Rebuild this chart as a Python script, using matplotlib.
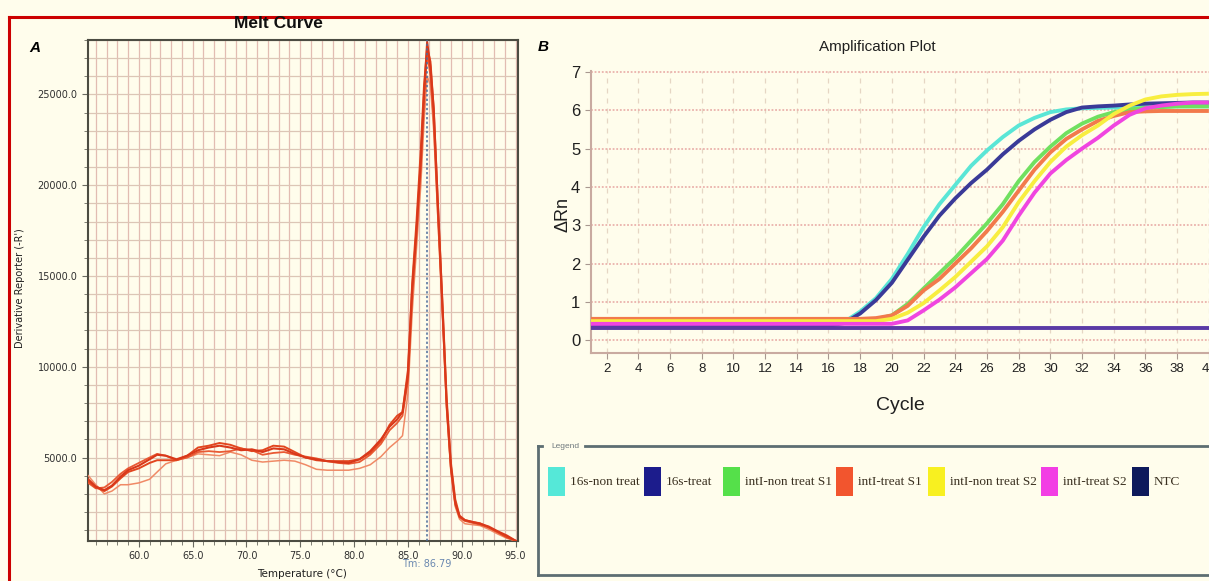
import matplotlib
matplotlib.use("Agg")
import matplotlib.pyplot as plt
from matplotlib.lines import Line2D
from matplotlib.patches import Rectangle

# ---- melt curve data (panel A) ----
temp = [55.3, 56.0, 56.8, 57.5, 58.3, 59.0, 60.0, 61.0, 61.7, 62.5, 63.5, 64.5,
        65.5, 66.5, 67.5, 68.5, 69.5, 70.5, 71.5, 72.5, 73.5, 74.5, 75.5, 76.5,
        77.5, 78.5, 79.5, 80.5, 81.5, 82.5, 83.3, 84.0, 84.5, 85.0, 85.4, 85.8,
        86.2, 86.5, 86.79, 87.1, 87.4, 87.8, 88.2, 88.6, 89.0, 89.4, 89.8, 90.3,
        91.0, 91.7, 92.5, 93.3, 94.2, 95.0]
melt_1 = [3800, 3400, 3200, 3450, 3950, 4300, 4550, 4900, 5150, 5100, 4900, 5100,
          5400, 5550, 5650, 5550, 5400, 5450, 5300, 5500, 5450, 5200, 5000, 4900,
          4800, 4750, 4700, 4900, 5350, 6000, 6700, 7100, 7500, 9500, 14300, 17500,
          21300, 25000, 27900, 26500, 24200, 18800, 13500, 8000, 4500, 2500, 1750, 1550,
          1450, 1350, 1200, 950, 700, 420]
melt_2 = [3600, 3300, 3350, 3650, 4100, 4400, 4700, 5000, 5200, 5100, 4850, 5000,
          5300, 5350, 5300, 5350, 5500, 5400, 5150, 5250, 5300, 5150, 5050, 4950,
          4800, 4700, 4650, 4750, 5150, 5750, 6500, 6900, 7300, 9200, 13800, 17300,
          21000, 24500, 27300, 26000, 23500, 18200, 13200, 7800, 4300, 2400, 1700, 1500,
          1400, 1300, 1150, 900, 650, 400]
melt_3 = [4000, 3500, 3000, 3150, 3500, 3500, 3600, 3800, 4200, 4650, 4850, 5000,
          5200, 5150, 5100, 5300, 5150, 4850, 4750, 4800, 4850, 4800, 4600, 4350,
          4300, 4300, 4300, 4400, 4600, 5050, 5550, 5900, 6200, 8500, 13000, 16500,
          20000, 23500, 26000, 25500, 23000, 18000, 13000, 7600, 4200, 2300, 1600, 1350,
          1300, 1250, 1050, 800, 550, 400]
melt_4 = [3700, 3350, 3150, 3400, 3850, 4200, 4400, 4700, 4850, 4850, 4850, 5100,
          5550, 5650, 5800, 5700, 5500, 5350, 5400, 5650, 5600, 5300, 5000, 4850,
          4800, 4800, 4800, 4900, 5250, 5900, 6800, 7300, 7500, 9800, 14600, 18000,
          22000, 25500, 27600, 26800, 24200, 18800, 13700, 8300, 4700, 2700, 1800, 1550,
          1450, 1380, 1150, 900, 600, 420]
tm_value = 86.79

# ---- amplification data (panel B) ----
cycles = list(range(1, 41))
amp_16s_non = [0.45] * 16 + [0.48, 0.75, 1.1, 1.6, 2.25, 2.95, 3.55, 4.05, 4.55, 4.95,
                             5.3, 5.6, 5.8, 5.95, 6.02, 6.05, 6.06, 6.07, 6.08, 6.08,
                             6.09, 6.1, 6.1, 6.1]
amp_16s_treat = [0.38] * 16 + [0.45, 0.7, 1.05, 1.5, 2.1, 2.7, 3.25, 3.7, 4.1, 4.45,
                               4.85, 5.2, 5.5, 5.75, 5.95, 6.07, 6.1, 6.12, 6.15, 6.17,
                               6.18, 6.19, 6.2, 6.2]
amp_intI_non_s1 = [0.5] * 18 + [0.55, 0.65, 0.95, 1.35, 1.75, 2.15, 2.6, 3.05, 3.55,
                                 4.15, 4.65, 5.05, 5.4, 5.65, 5.83, 5.95, 6.02, 6.06,
                                 6.08, 6.1, 6.1, 6.1]
amp_intI_treat_s1 = [0.56] * 18 + [0.58, 0.65, 0.9, 1.3, 1.6, 2.0, 2.4, 2.85, 3.35,
                                   3.9, 4.45, 4.9, 5.25, 5.5, 5.72, 5.85, 5.95, 5.97,
                                   5.98, 5.98, 5.98, 5.98]
amp_intI_non_s2 = [0.5] * 19 + [0.56, 0.72, 0.97, 1.3, 1.65, 2.05, 2.45, 2.95, 3.6,
                                4.15, 4.65, 5.05, 5.35, 5.6, 5.9, 6.12, 6.28, 6.36,
                                6.4, 6.42, 6.43]
amp_intI_treat_s2 = [0.43] * 20 + [0.52, 0.78, 1.06, 1.38, 1.75, 2.12, 2.6, 3.25, 3.85,
                                   4.35, 4.7, 5.0, 5.28, 5.6, 5.88, 6.05, 6.12, 6.17,
                                   6.2, 6.2]
amp_ntc = [0.33] * 40

amp_labels = ["16s-non treat", "16s-treat", "intI-non treat S1", "intI-treat S1",
              "intI-non treat S2", "intI-treat S2", "NTC"]
amp_series = [amp_16s_non, amp_16s_treat, amp_intI_non_s1, amp_intI_treat_s1,
              amp_intI_non_s2, amp_intI_treat_s2, amp_ntc]
amp_colors = ["#55e8d8", "#1c1c8c", "#55e04a", "#f2552e", "#f8f020", "#f23ee4", "#0e1a5c"]
line_colors = ["#5ae6d6", "#3a3a98", "#70e060", "#f27a4c", "#f8ee40", "#f045e0", "#5a3aa6"]

W, H = 1209, 581
bg = "#fffdec"
narrow = ["Liberation Sans Narrow", "Liberation Sans", "DejaVu Sans"]


def fx(x):
    return x / W


def fy(y):
    return 1 - y / H


fig = plt.figure(figsize=(W / 100, H / 100), dpi=100, facecolor=bg)

# ---------------- panel A: melt curve ----------------
ax1 = fig.add_axes([fx(87.8), fy(541), (518.2 - 87.8) / W, (541 - 40) / H])
ax1.set_facecolor(bg)
for vals, col, lw in [(melt_3, "#f08a66", 1.1), (melt_2, "#e95a34", 1.3),
                      (melt_4, "#e2461f", 1.4), (melt_1, "#d9381a", 1.5)]:
    ax1.plot(temp, vals, color=col, lw=lw, zorder=3)
ax1.axvline(tm_value, color="#4a6a9a", lw=1.1, ls=(0, (1.5, 1.5)), zorder=4)
ax1.set_xlim(55.26, 95.25)
ax1.set_ylim(400, 28000)
ax1.set_xticks(range(60, 96, 5))
ax1.set_xticklabels([f"{v:.1f}" for v in range(60, 96, 5)])
ax1.set_xticks(range(56, 96), minor=True)
ax1.set_yticks(range(5000, 25001, 5000))
ax1.set_yticklabels([f"{v:.1f}" for v in range(5000, 25001, 5000)])
ax1.set_yticks(range(1000, 28001, 1000), minor=True)
ax1.grid(True, which="both", axis="x", color="#e2bcb2", lw=0.9, zorder=1)
ax1.grid(True, which="both", axis="y", color="#dcc6b6", lw=0.9, zorder=1)
ax1.tick_params(which="both", direction="out", colors="#6a6a60", labelcolor="#303030",
                labelsize=7)
ax1.tick_params(which="major", length=4)
ax1.tick_params(which="minor", length=3)
for sp in ax1.spines.values():
    sp.set_color("#4c4c42")
    sp.set_linewidth(1.5)
ax1.text(tm_value, -0.046, f"Tm: {tm_value}", transform=ax1.get_xaxis_transform(),
         ha="center", va="center", fontsize=7, color="#6a88b0")
fig.text(fx(302), fy(574), "Temperature (°C)", ha="center", va="center", fontsize=7.5,
         color="#202020")
fig.text(fx(20), fy(288), "Derivative Reporter (-R')", ha="center", va="center",
         rotation=90, fontsize=7, color="#202020")
fig.text(fx(278), fy(28), "Melt Curve", ha="center", va="baseline", fontsize=12.5,
         fontweight="bold", family="Liberation Sans", color="#101010")
fig.text(fx(35), fy(48), "A", ha="center", va="center", fontsize=11,
         fontweight="bold", fontstyle="italic", family="Liberation Sans")

# ---------------- panel B: amplification plot ----------------
ax2 = fig.add_axes([fx(590.7), fy(353), (1224.7 - 590.7) / W, (353 - 70.7) / H])
ax2.set_facecolor(bg)
for vals, col in zip(amp_series, line_colors):
    ax2.plot(cycles, vals, color=col, lw=2.8, solid_capstyle="butt", zorder=3)
ax2.set_xlim(1, 41)
ax2.set_ylim(-0.33, 7.03)
ax2.set_xticks(range(2, 41, 2))
ax2.set_yticks(range(0, 8))
ax2.grid(True, axis="y", color="#eab2ac", lw=1.3, ls=(0, (1, 1)), zorder=1)
ax2.grid(True, axis="x", color="#e6d6c4", lw=0.9, ls=(0, (4, 4)), zorder=1)
ax2.tick_params(direction="out", length=4, colors="#a89890", labelcolor="#202020")
for lab in ax2.get_xticklabels():
    lab.set_fontfamily(narrow)
    lab.set_fontsize(9.5)
for lab in ax2.get_yticklabels():
    lab.set_fontfamily(narrow)
    lab.set_fontsize(12)
ax2.spines["top"].set_visible(False)
ax2.spines["right"].set_visible(False)
for side in ["left", "bottom"]:
    ax2.spines[side].set_color("#c9aaa0")
    ax2.spines[side].set_linewidth(1.5)
fig.text(fx(877), fy(47), "Amplification Plot", ha="center", va="center",
         fontsize=11, family=narrow, color="#202020")
fig.text(fx(900), fy(405), "Cycle", ha="center", va="center", fontsize=14,
         family=narrow, color="#202020")
fig.text(fx(563), fy(215), "ΔRn", ha="center", va="center", rotation=90, fontsize=13,
         family=narrow, color="#202020")
fig.text(fx(543), fy(47), "B", ha="center", va="center", fontsize=11,
         fontweight="bold", fontstyle="italic", family="Liberation Sans")

# ---------------- legend box ----------------
frame_col = "#5d6e72"
for xs, ys in [([538, 538], [446, 575]), ([538, 542], [446, 446]),
               ([585, W], [446, 446]), ([538, W], [575, 575])]:
    fig.add_artist(Line2D([fx(x) for x in xs], [fy(y) for y in ys],
                          color=frame_col, lw=2))
fig.text(fx(565), fy(446), "Legend", ha="center", va="center", fontsize=6,
         color="#707a7e", family=narrow)
swatch_x = [548, 644, 723, 836, 928, 1041, 1132]
for x0, lab, col in zip(swatch_x, amp_labels, amp_colors):
    fig.add_artist(Rectangle((fx(x0), fy(496)), 17 / W, 29 / H, color=col, lw=0))
    fig.text(fx(x0 + 22), fy(482), lab, ha="left", va="center", fontsize=9.5,
             family="Liberation Serif", color="#3a3020")

# red border
fig.add_artist(Line2D([fx(9.3), 1.0], [fy(16.7), fy(16.7)], color="#cc0000", lw=2.2))
fig.add_artist(Line2D([fx(9.3), fx(9.3)], [fy(16.7), 0.0], color="#cc0000", lw=2.2))

fig.savefig("out.png", dpi=100, facecolor=bg)
